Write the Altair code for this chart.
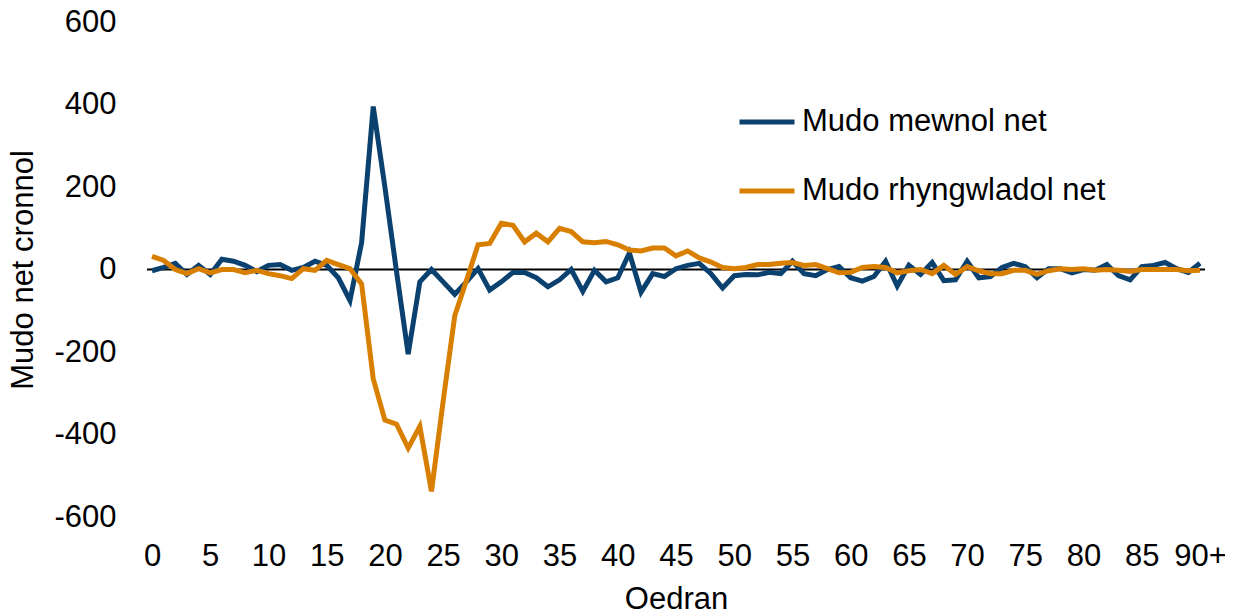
import altair as alt
import pandas as pd

ages = [str(a) for a in range(90)] + ["90+"]

mewnol = [-3, 5, 15, -12, 10, -12, 25, 20, 10, -5,
          10, 12, -2, 5, 20, 10, -20, -75, 65, 395,
          200, -5, -205, -30, 0, -30, -60, -30, 2, -50,
          -30, -7, -7, -20, -42, -25, 0, -53, -2, -30,
          -20, 40, -55, -10, -17, 2, 10, 15, -10, -45,
          -15, -12, -13, -7, -10, 20, -10, -15, 0, 7,
          -20, -28, -17, 20, -40, 10, -12, 17, -27, -25,
          20, -20, -17, 5, 15, 7, -20, 2, 2, -8,
          0, -2, 12, -15, -25, 7, 10, 17, 2, -7, 15]

rhyngwladol = [32, 22, 0, -10, 2, -8, 0, 0, -8, -2,
               -10, -15, -22, 2, -2, 22, 12, 2, -35, -265,
               -365, -375, -433, -380, -538, -320, -112, -27, 60, 63,
               112, 107, 67, 88, 67, 100, 92, 67, 65, 68,
               60, 47, 45, 52, 52, 33, 45, 28, 18, 5,
               2, 5, 12, 12, 15, 17, 10, 12, 2, -8,
               -7, 5, 7, 5, -8, -3, 0, -10, 10, -12,
               7, -3, -10, -10, -2, -2, -12, -3, 2, 0,
               2, -2, 0, -2, -5, 0, 0, 0, 0, -3, -2]

series_names = ["Mudo mewnol net", "Mudo rhyngwladol net"]
series_colors = ["#0a416e", "#d97f00"]
tick_ages = ["0", "5", "10", "15", "20", "25", "30", "35", "40", "45",
             "50", "55", "60", "65", "70", "75", "80", "85", "90+"]
y_ticks = [-600, -400, -200, 0, 200, 400, 600]

rows = []
for i, a in enumerate(ages):
    rows.append({"Oedran": a, "order": i, "value": mewnol[i], "series": series_names[0]})
    rows.append({"Oedran": a, "order": i, "value": rhyngwladol[i], "series": series_names[1]})
df = pd.DataFrame(rows)

FONT = "Liberation Sans"
FS = 31

x_enc = alt.X("Oedran:O", sort=ages,
              scale=alt.Scale(type="point", padding=0.43),
              axis=alt.Axis(values=tick_ages, labelAngle=0, domain=False, ticks=False,
                            labelFontSize=FS, labelPadding=24, title="Oedran",
                            titleFontSize=FS, titleFontWeight="normal", titlePadding=13,
                            labelColor="#000000", titleColor="#000000", grid=False))

y_scale = alt.Scale(domain=[-600, 600], nice=False)

lines = alt.Chart(df).mark_line(strokeWidth=5, strokeJoin="miter").encode(
    x=x_enc,
    y=alt.Y("value:Q", scale=y_scale,
            axis=alt.Axis(values=y_ticks, domain=False, ticks=False, grid=False,
                          labelExpr="datum.value < 0 ? '-' + abs(datum.value) : '' + datum.value",
                          labelFontSize=FS, labelPadding=31, title="Mudo net cronnol",
                          titleFontSize=FS, titleFontWeight="normal", titlePadding=14,
                          labelColor="#000000", titleColor="#000000")),
    color=alt.Color("series:N", sort=series_names,
                    scale=alt.Scale(domain=series_names, range=series_colors),
                    legend=alt.Legend(title=None, orient="none", legendX=590, legendY=70,
                                      symbolType="stroke", symbolSize=3025,
                                      symbolStrokeWidth=5, labelFontSize=FS,
                                      labelOffset=5, rowPadding=24, labelLimit=500,
                                      labelColor="#000000")),
    order=alt.Order("series:N", sort="ascending"),
    detail="series:N",
)

zero = alt.Chart(pd.DataFrame({"y": [0]})).mark_rule(color="#000000", strokeWidth=1.8).encode(
    y=alt.Y("y:Q", scale=y_scale)
)

chart = alt.layer(zero, lines).properties(
    width=1058, height=495,
    padding={"left": 139, "top": 14, "right": 20, "bottom": 99},
    autosize=alt.AutoSizeParams(type="none"),
).configure(font=FONT).configure_view(stroke=None)

chart.save("out.html", embed_options={"renderer": "svg", "actions": False})
